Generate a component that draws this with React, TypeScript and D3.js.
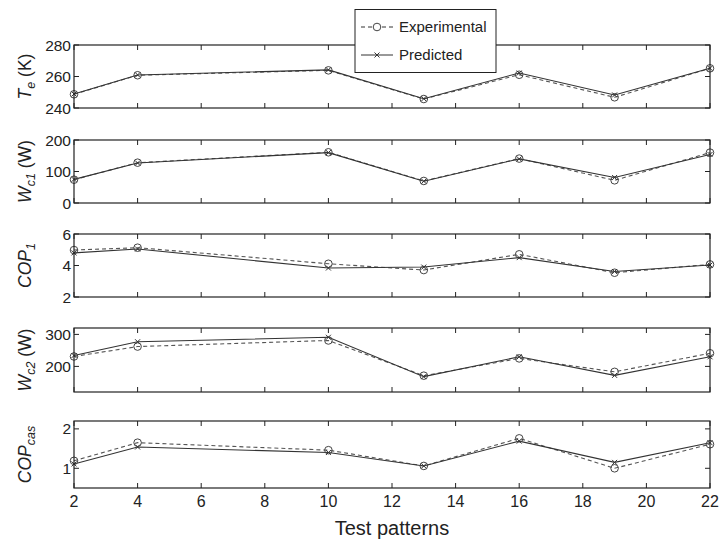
import React, { useEffect, useRef } from "react";
import * as d3 from "d3";

// test patterns on the x axis
const patterns = [2, 4, 10, 13, 16, 19, 22];
const xTicks = [2, 4, 6, 8, 10, 12, 14, 16, 18, 20, 22];

const teExp = [248.7, 260.8, 263.9, 245.7, 261.1, 246.8, 265.2];
const tePred = [248.9, 261.0, 264.2, 245.9, 262.2, 248.3, 265.2];

const wc1Exp = [74, 128, 161, 70, 141, 72, 160];
const wc1Pred = [75, 127, 160, 69, 140, 81, 154];

const cop1Exp = [4.98, 5.13, 4.11, 3.71, 4.71, 3.54, 4.07];
const cop1Pred = [4.8, 5.05, 3.84, 3.9, 4.5, 3.62, 4.03];

const wc2Exp = [231, 262, 281, 171, 225, 183, 241];
const wc2Pred = [234, 277, 291, 168, 230, 172, 230];

const copCasExp = [1.19, 1.65, 1.46, 1.06, 1.76, 1.0, 1.61];
const copCasPred = [1.11, 1.54, 1.4, 1.06, 1.69, 1.15, 1.65];

const panels = [
  { top: 45, bottom: 108, domain: [240, 280], ticks: [240, 260, 280], label: ["T", "e", " (K)"], exp: teExp, pred: tePred },
  { top: 140, bottom: 203, domain: [0, 200], ticks: [0, 100, 200], label: ["W", "c1", " (W)"], exp: wc1Exp, pred: wc1Pred },
  { top: 234, bottom: 297, domain: [2, 6], ticks: [2, 4, 6], label: ["COP", "1", ""], exp: cop1Exp, pred: cop1Pred },
  { top: 328, bottom: 392, domain: [120, 320], ticks: [200, 300], label: ["W", "c2", " (W)"], exp: wc2Exp, pred: wc2Pred },
  { top: 421, bottom: 488, domain: [0.5, 2.2], ticks: [1, 2], label: ["COP", "cas", ""], exp: copCasExp, pred: copCasPred },
];

const App = () => {
  const svgRef = useRef(null);

  useEffect(() => {
    const width = 719;
    const height = 543;
    const left = 74;
    const right = 710;
    const font = "'Liberation Sans', Arial, sans-serif";
    const ink = "#222";

    const svg = d3
      .select(svgRef.current)
      .attr("width", width)
      .attr("height", height)
      .style("position", "absolute")
      .style("left", 0)
      .style("top", 0)
      .style("background", "#fff");
    svg.selectAll("*").remove();

    const x = d3.scaleLinear().domain([2, 22]).range([left, right]);

    panels.forEach((p, i) => {
      const y = d3.scaleLinear().domain(p.domain).range([p.bottom, p.top]);
      const g = svg.append("g");

      // ticks (inward, all four sides)
      xTicks.forEach((t) => {
        g.append("line").attr("x1", x(t)).attr("x2", x(t)).attr("y1", p.bottom).attr("y2", p.bottom - 5).attr("stroke", ink);
        g.append("line").attr("x1", x(t)).attr("x2", x(t)).attr("y1", p.top).attr("y2", p.top + 5).attr("stroke", ink);
      });
      p.ticks.forEach((t) => {
        g.append("line").attr("x1", left).attr("x2", left + 5).attr("y1", y(t)).attr("y2", y(t)).attr("stroke", ink);
        g.append("line").attr("x1", right).attr("x2", right - 5).attr("y1", y(t)).attr("y2", y(t)).attr("stroke", ink);
        g.append("text")
          .attr("x", left - 3)
          .attr("y", y(t))
          .attr("dy", "0.36em")
          .attr("text-anchor", "end")
          .attr("font-family", font)
          .attr("font-size", 15.5)
          .attr("fill", ink)
          .text(t);
      });

      const line = d3
        .line<number>()
        .x((_, j) => x(patterns[j]))
        .y((d) => y(d));

      g.append("path")
        .attr("d", line(p.exp))
        .attr("fill", "none")
        .attr("stroke", "#555")
        .attr("stroke-width", 1.1)
        .attr("stroke-dasharray", "4,3");
      g.append("path")
        .attr("d", line(p.pred))
        .attr("fill", "none")
        .attr("stroke", "#333")
        .attr("stroke-width", 1.1);

      p.exp.forEach((v, j) => {
        g.append("circle")
          .attr("cx", x(patterns[j]))
          .attr("cy", y(v))
          .attr("r", 3.8)
          .attr("fill", "none")
          .attr("stroke", "#444")
          .attr("stroke-width", 1);
      });
      p.pred.forEach((v, j) => {
        const cx = x(patterns[j]);
        const cy = y(v);
        g.append("path")
          .attr("d", `M${cx - 2.5},${cy - 2.5}L${cx + 2.5},${cy + 2.5}M${cx - 2.5},${cy + 2.5}L${cx + 2.5},${cy - 2.5}`)
          .attr("stroke", "#333")
          .attr("stroke-width", 1);
      });

      g.append("rect")
        .attr("x", left)
        .attr("y", p.top)
        .attr("width", right - left)
        .attr("height", p.bottom - p.top)
        .attr("fill", "none")
        .attr("stroke", ink)
        .attr("stroke-width", 1.2);

      // y label
      const cy = (p.top + p.bottom) / 2;
      const lab = g
        .append("text")
        .attr("transform", `translate(31,${cy}) rotate(-90)`)
        .attr("text-anchor", "middle")
        .attr("font-family", font)
        .attr("font-size", 17.5)
        .attr("fill", ink);
      lab.append("tspan").attr("font-style", "italic").text(p.label[0]);
      lab.append("tspan").attr("font-style", "italic").attr("font-size", 12.5).attr("dy", 4).text(p.label[1]);
      if (p.label[2]) lab.append("tspan").attr("dy", -4).text(p.label[2]);

      if (i === panels.length - 1) {
        xTicks.forEach((t) => {
          g.append("text")
            .attr("x", x(t))
            .attr("y", p.bottom + 19)
            .attr("text-anchor", "middle")
            .attr("font-family", font)
            .attr("font-size", 16)
            .attr("fill", ink)
            .text(t);
        });
      }
    });

    svg
      .append("text")
      .attr("x", (left + right) / 2)
      .attr("y", 535)
      .attr("text-anchor", "middle")
      .attr("font-family", font)
      .attr("font-size", 20)
      .attr("fill", ink)
      .text("Test patterns");

    // legend
    const lg = svg.append("g");
    lg.append("rect").attr("x", 355).attr("y", 9.5).attr("width", 141).attr("height", 63).attr("fill", "#fff").attr("stroke", ink);
    const items = [
      { name: "Experimental", dash: "4,3", ly: 27 },
      { name: "Predicted", dash: null, ly: 55 },
    ];
    items.forEach((it, k) => {
      lg.append("line")
        .attr("x1", 361)
        .attr("x2", 393)
        .attr("y1", it.ly)
        .attr("y2", it.ly)
        .attr("stroke", "#333")
        .attr("stroke-dasharray", it.dash);
      if (k === 0) {
        lg.append("circle").attr("cx", 377).attr("cy", it.ly).attr("r", 3.8).attr("fill", "#fff").attr("stroke", "#444");
      } else {
        lg.append("path")
          .attr("d", `M374.5,${it.ly - 2.5}L379.5,${it.ly + 2.5}M374.5,${it.ly + 2.5}L379.5,${it.ly - 2.5}`)
          .attr("stroke", "#333");
      }
      lg.append("text")
        .attr("x", 399)
        .attr("y", it.ly)
        .attr("dy", "0.36em")
        .attr("font-family", font)
        .attr("font-size", 15)
        .attr("fill", ink)
        .text(it.name);
    });
  }, []);

  return <svg ref={svgRef}></svg>;
};

export default App;
